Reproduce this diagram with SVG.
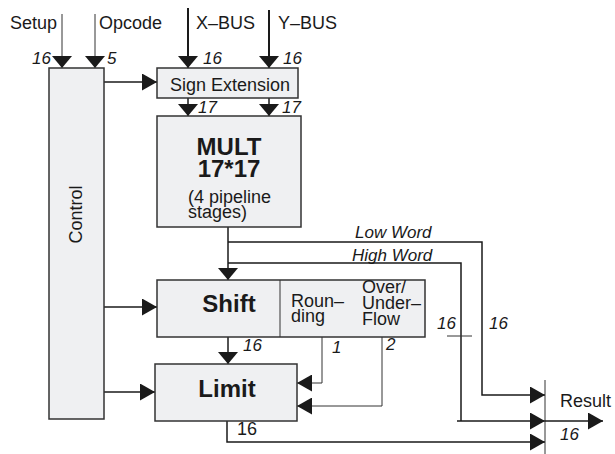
<svg xmlns="http://www.w3.org/2000/svg" width="615" height="454" viewBox="0 0 615 454">
<defs>
<marker id="av" markerUnits="userSpaceOnUse" markerWidth="12" markerHeight="20" refX="12" refY="10" orient="auto"><path d="M0,0 L12,10 L0,20 z" fill="#1a1a1a"/></marker>
<marker id="ah" markerUnits="userSpaceOnUse" markerWidth="15" markerHeight="17" refX="15" refY="8.5" orient="auto"><path d="M0,0 L15,8.5 L0,17 z" fill="#1a1a1a"/></marker>
<style>
.box{fill:#eff0f2;stroke:#333;stroke-width:1.5}
.ln{fill:none;stroke:#1a1a1a;stroke-width:1.5}
.th{fill:none;stroke:#333;stroke-width:1}
.bus{fill:none;stroke:#1a1a1a;stroke-width:2}
text{font-family:"Liberation Sans",Arial,sans-serif;font-size:18px;fill:#1a1a1a}
.it{font-style:italic;font-size:17px}
.b{font-weight:bold;font-size:24px}
.c{text-anchor:middle}
</style>
</defs>
<g id="connectors">
<path class="th" d="M62,14 V68" marker-end="url(#av)"/>
<path class="th" d="M95,14 V68" marker-end="url(#av)"/>
<path class="bus" d="M188,8 V68" marker-end="url(#av)"/>
<path class="bus" d="M269,10 V68" marker-end="url(#av)"/>
<path class="ln" d="M104,82 H157" marker-end="url(#ah)"/>
<path class="ln" d="M188,98 V116" marker-end="url(#av)"/>
<path class="ln" d="M269,98 V116" marker-end="url(#av)"/>
<path class="ln" d="M228,227 V280" marker-end="url(#av)"/>
<path class="ln" d="M228,242 H482 V395 H545" marker-end="url(#ah)"/>
<path class="ln" d="M228,263 H461 V421"/>
<path class="ln" d="M457,421 H545" marker-end="url(#ah)"/>
<path class="th" d="M447,336 H472"/>
<path class="ln" d="M104,307 H157" marker-end="url(#ah)"/>
<path class="ln" d="M104,392 H155" marker-end="url(#ah)"/>
<path class="ln" d="M228,337 V364" marker-end="url(#av)"/>
<path class="th" d="M322,337 V383 H297" marker-end="url(#ah)"/>
<path class="th" d="M382,337 V406 H297" marker-end="url(#ah)"/>
<path class="ln" d="M227,421 V442 H545" marker-end="url(#ah)"/>
<path class="th" d="M545,380 V454"/>
<path class="ln" d="M545,421 H603" marker-end="url(#ah)"/>
</g>
<g id="labels">
<text x="10" y="29">Setup</text>
<text x="99" y="29">Opcode</text>
<text x="196" y="29">X–BUS</text>
<text x="278" y="29">Y–BUS</text>
<text class="it" x="32" y="64">16</text>
<text class="it" x="107" y="64">5</text>
<text class="it" x="203" y="64">16</text>
<text class="it" x="283" y="64">16</text>
<text class="it" x="198" y="113">17</text>
<text class="it" x="282" y="113">17</text>
<text class="it" x="355" y="238">Low Word</text>
<text class="it" x="352" y="261">High Word</text>
<text class="it" x="243" y="351">16</text>
<text class="it" x="332" y="353">1</text>
<text class="it" x="386" y="350">2</text>
<text x="237" y="435">16</text>
<text class="it" x="437" y="329">16</text>
<text class="it" x="489" y="329">16</text>
<text x="560" y="407">Result</text>
<text class="it" x="560" y="440">16</text>
</g>
<g id="control">
<rect class="box" x="49" y="68" width="55" height="351"/>
<text class="c" transform="translate(82,214.5) rotate(-90)">Control</text>
</g>
<g id="signext">
<rect class="box" x="157" y="68" width="141" height="30"/>
<text class="c" x="230" y="91">Sign Extension</text>
</g>
<g id="mult">
<rect class="box" x="157" y="116" width="144" height="111"/>
<text class="b c" x="229" y="155">MULT</text>
<text class="b c" x="229" y="177">17*17</text>
<text x="188" y="203">(4 pipeline</text>
<text x="188" y="218">stages)</text>
</g>
<g id="shift">
<rect class="box" x="157" y="280" width="268" height="57"/>
<path class="th" d="M280,280 V337"/>
<text class="b c" x="229" y="312">Shift</text>
<text x="291" y="307">Roun–</text>
<text x="291" y="322">ding</text>
<text x="362" y="293">Over/</text>
<text x="362" y="309">Under–</text>
<text x="362" y="325">Flow</text>
</g>
<g id="limit">
<rect class="box" x="155" y="364" width="142" height="57"/>
<text class="b c" x="227" y="397">Limit</text>
</g>
</svg>
